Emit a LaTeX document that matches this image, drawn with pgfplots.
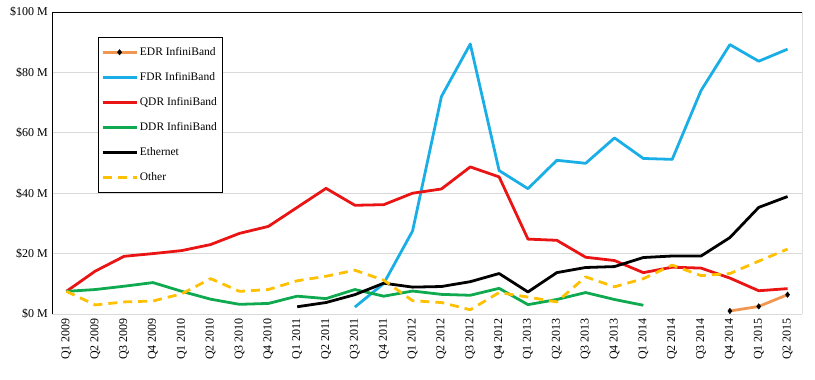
\documentclass[border=0pt]{standalone}
\usepackage{pgfplots}
\pgfplotsset{compat=1.18}
\usepackage{fontspec}
\setmainfont{Liberation Serif}
\definecolor{edr}{RGB}{240,150,80}
\definecolor{fdr}{RGB}{25,175,230}
\definecolor{qdr}{RGB}{235,20,20}
\definecolor{ddr}{RGB}{15,170,80}
\definecolor{oth}{RGB}{255,192,0}
\definecolor{grd}{RGB}{217,217,217}
\pgfplotsset{mylegimg/.style={legend image code/.code={\draw[mark repeat=2,mark phase=2,##1] plot coordinates {(0bp,0bp) (17bp,0bp) (34bp,0bp)};}}}
\begin{document}
\begin{tikzpicture}
\begin{axis}[
  name=ax,
  width=750bp, height=302bp, scale only axis,
  xmin=-0.5, xmax=25.5, ymin=0, ymax=100,
  axis line style={draw=none},
  ymajorgrids, grid style={grd, line width=0.8pt},
  major tick length=0pt,
  ytick={0,20,40,60,80,100},
  yticklabels={\$0 M,\$20 M,\$40 M,\$60 M,\$80 M,\$100 M},
  xtick={0,...,25},
  xticklabels={Q1 2009,Q2 2009,Q3 2009,Q4 2009,Q1 2010,Q2 2010,Q3 2010,Q4 2010,Q1 2011,Q2 2011,Q3 2011,Q4 2011,Q1 2012,Q2 2012,Q3 2012,Q4 2012,Q1 2013,Q2 2013,Q3 2013,Q4 2013,Q1 2014,Q2 2014,Q3 2014,Q4 2014,Q1 2015,Q2 2015},
  xticklabel style={rotate=90, anchor=east, font=\fontsize{12bp}{14bp}\selectfont, inner sep=4bp},
  yticklabel style={font=\fontsize{12bp}{14bp}\selectfont, inner sep=4bp},
  every axis plot/.append style={line width=2.8pt, line join=round},
  legend cell align=left,
  legend style={at={(0.061,0.917)}, anchor=north west, draw=black, line width=0.8pt, fill=white,
    font=\fontsize{11.5bp}{13bp}\selectfont, row sep=11.5bp, inner xsep=3bp, inner ysep=8bp},
  mylegimg,
]
\addplot[edr, mark=diamond*, mark size=2.8pt, mark options={fill=black, draw=black, line width=0.4pt}] coordinates {(23,1.0) (24,2.5) (25,6.4)};
\addlegendentry{EDR InfiniBand}
\addplot[fdr] coordinates {(10,2.3) (11,10.1) (12,27.5) (13,72.0) (14,89.4) (15,47.5) (16,41.5) (17,50.9) (18,49.9) (19,58.3) (20,51.5) (21,51.2) (22,74.0) (23,89.2) (24,83.7) (25,87.7)};
\addlegendentry{FDR InfiniBand}
\addplot[qdr] coordinates {(0,7.5) (1,14.2) (2,19.1) (3,20.0) (4,21.0) (5,23.0) (6,26.7) (7,29.0) (8,35.3) (9,41.6) (10,36.0) (11,36.2) (12,40.0) (13,41.4) (14,48.7) (15,45.4) (16,24.8) (17,24.4) (18,18.8) (19,17.7) (20,13.7) (21,15.5) (22,15.2) (23,11.9) (24,7.7) (25,8.4)};
\addlegendentry{QDR InfiniBand}
\addplot[ddr] coordinates {(0,7.5) (1,8.1) (2,9.2) (3,10.4) (4,7.5) (5,4.9) (6,3.2) (7,3.5) (8,5.9) (9,5.1) (10,8.1) (11,5.9) (12,7.6) (13,6.5) (14,6.2) (15,8.5) (16,3.1) (17,4.8) (18,7.1) (19,4.8) (20,2.9)};
\addlegendentry{DDR InfiniBand}
\addplot[black] coordinates {(8,2.4) (9,3.8) (10,6.4) (11,10.2) (12,8.9) (13,9.1) (14,10.7) (15,13.4) (16,7.3) (17,13.7) (18,15.4) (19,15.7) (20,18.7) (21,19.2) (22,19.2) (23,25.3) (24,35.3) (25,38.9)};
\addlegendentry{Ethernet}
\addplot[oth, dash pattern=on 9bp off 6bp] coordinates {(0,7.5) (1,3.0) (2,4.0) (3,4.3) (4,6.7) (5,11.7) (6,7.5) (7,8.1) (8,11.0) (9,12.5) (10,14.5) (11,11.2) (12,4.4) (13,3.8) (14,1.4) (15,7.1) (16,5.6) (17,4.0) (18,12.3) (19,9.0) (20,11.7) (21,16.2) (22,12.7) (23,13.4) (24,17.5) (25,21.5)};
\addlegendentry{Other}
\draw[black, line width=0.8pt] (rel axis cs:0,0) -- (rel axis cs:0,1) -- (rel axis cs:1,1) -- (rel axis cs:1,0);
\end{axis}
\pgfresetboundingbox
\path ([shift={(-52bp,-66bp)}]ax.south west) rectangle ([shift={(13bp,12bp)}]ax.north east);
\end{tikzpicture}
\end{document}
